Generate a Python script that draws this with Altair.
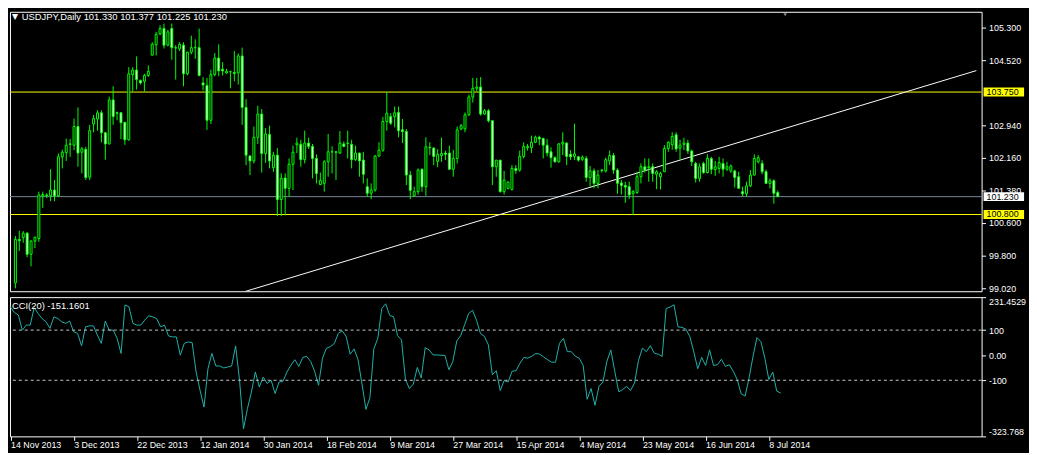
import altair as alt
import pandas as pd

# ---------------- data ----------------
opens = [99.15, 100.20, 100.24, 100.35, 99.84, 100.16, 100.22, 101.25, 101.27, 101.25,
         101.39, 101.25, 102.19, 102.29, 102.49, 102.47, 102.92, 102.30, 102.37, 101.70,
         102.98, 103.10, 103.25, 102.77, 102.50, 103.56, 103.25, 103.25, 103.02, 102.60,
         104.17, 104.28, 104.03, 104.01, 104.15, 104.64, 104.89, 105.15, 105.28, 104.88,
         105.28, 104.82, 104.79, 104.88, 104.19, 104.71, 104.82, 104.82, 103.97, 103.91,
         103.07, 104.17, 104.57, 104.30, 104.21, 104.24, 104.22, 104.21, 104.62, 103.38,
         102.21, 102.09, 102.66, 103.22, 102.27, 102.73, 101.93, 102.23, 101.16, 101.68,
         101.43, 102.01, 102.48, 102.49, 102.12, 102.52, 102.44, 102.15, 101.52, 101.55,
         102.07, 102.31, 102.31, 102.28, 102.50, 102.51, 102.49, 102.12, 102.28, 102.11,
         101.47, 101.31, 101.39, 102.21, 102.35, 103.04, 103.16, 103.16, 103.26, 102.84,
         102.80, 101.75, 101.25, 101.35, 101.89, 101.47, 102.42, 102.40, 102.08, 102.22,
         102.28, 102.28, 101.89, 102.15, 102.86, 102.86, 103.20, 103.63, 103.84, 103.87,
         103.22, 103.30, 103.06, 101.95, 102.11, 101.35, 101.43, 101.40, 101.91, 101.87,
         102.20, 102.41, 102.41, 102.54, 102.66, 102.63, 102.47, 102.31, 102.17, 102.07,
         102.50, 102.52, 102.25, 102.20, 102.19, 102.13, 102.15, 101.69, 101.85, 101.55,
         101.87, 101.85, 102.09, 102.22, 101.87, 101.56, 101.50, 101.47, 101.30, 101.33,
         101.71, 101.95, 101.93, 101.95, 101.77, 101.71, 101.83, 102.39, 102.48, 102.72,
         102.40, 102.49, 102.52, 102.33, 102.03, 101.67, 102.03, 101.81, 102.15, 101.88,
         101.91, 102.03, 101.89, 101.85, 101.85, 101.71, 101.35, 101.30, 101.49, 101.75,
         102.07, 102.03, 101.83, 101.55, 101.61, 101.330]
highs = [100.28, 100.41, 100.40, 100.38, 100.18, 100.27, 101.35, 101.35, 101.31, 101.89,
         101.63, 102.27, 102.36, 102.63, 102.62, 103.11, 103.38, 102.43, 102.43, 102.96,
         103.20, 103.31, 103.31, 102.78, 103.64, 103.89, 103.28, 103.27, 103.03, 104.35,
         104.35, 104.61, 104.05, 104.19, 104.39, 104.95, 105.20, 105.36, 105.40, 105.25,
         105.40, 104.88, 104.95, 104.95, 104.72, 105.11, 105.02, 105.28, 104.11, 104.09,
         104.29, 104.69, 104.90, 104.47, 104.31, 104.26, 104.74, 104.68, 104.82, 103.58,
         102.23, 102.92, 103.42, 103.34, 102.88, 102.94, 102.31, 102.40, 101.79, 101.79,
         102.15, 102.46, 102.65, 102.60, 102.82, 102.65, 102.50, 102.25, 101.81, 102.11,
         102.74, 102.44, 102.32, 102.81, 102.56, 102.82, 102.60, 102.46, 102.29, 102.31,
         101.67, 101.55, 102.23, 102.54, 103.15, 103.76, 103.24, 103.40, 103.40, 103.10,
         102.86, 101.85, 101.47, 101.91, 101.91, 102.66, 102.54, 102.42, 102.37, 102.65,
         102.34, 102.46, 102.36, 102.92, 102.98, 103.26, 103.69, 104.09, 104.09, 104.11,
         103.34, 103.34, 103.06, 102.11, 102.11, 101.85, 101.60, 101.99, 101.99, 102.34,
         102.54, 102.50, 102.70, 102.70, 102.70, 102.65, 102.62, 102.42, 102.20, 102.52,
         102.78, 102.54, 102.35, 102.99, 102.21, 102.22, 102.21, 101.97, 101.91, 101.87,
         101.90, 102.17, 102.34, 102.28, 101.91, 101.63, 101.59, 101.59, 101.39, 101.83,
         102.03, 102.15, 102.15, 102.03, 101.87, 101.83, 102.47, 102.56, 102.78, 102.78,
         102.60, 102.65, 102.60, 102.36, 102.07, 102.03, 102.07, 102.25, 102.19, 102.09,
         102.19, 102.15, 102.07, 102.00, 101.88, 101.83, 101.47, 101.59, 101.87, 102.25,
         102.23, 102.11, 101.88, 101.67, 101.65, 101.377]
lows = [99.02, 99.92, 100.12, 99.77, 99.55, 99.99, 100.14, 100.96, 101.20, 101.12,
        101.12, 101.22, 101.91, 102.09, 102.19, 102.35, 101.95, 101.79, 101.63, 101.63,
        102.78, 102.82, 102.54, 102.12, 102.49, 102.96, 103.07, 102.62, 102.48, 102.58,
        103.76, 103.81, 103.93, 103.76, 104.11, 104.63, 104.63, 105.12, 104.80, 104.85,
        104.53, 104.05, 104.74, 103.89, 104.15, 104.66, 104.55, 104.13, 103.79, 102.84,
        102.98, 104.13, 104.13, 104.15, 104.19, 103.84, 104.01, 103.93, 102.96, 101.99,
        101.75, 102.03, 102.50, 101.81, 102.04, 101.91, 101.83, 100.76, 100.76, 100.78,
        101.23, 101.39, 102.28, 101.95, 102.03, 102.38, 101.67, 101.55, 101.51, 101.35,
        101.71, 101.79, 101.63, 102.26, 102.42, 102.15, 101.91, 102.09, 101.71, 101.55,
        101.23, 101.17, 101.35, 102.19, 102.31, 102.82, 102.96, 102.90, 102.66, 102.52,
        101.51, 101.17, 101.23, 101.28, 101.35, 101.25, 102.23, 101.99, 101.94, 102.07,
        102.11, 101.87, 101.71, 102.03, 102.83, 102.78, 103.18, 103.50, 103.77, 103.18,
        103.20, 103.02, 101.51, 101.71, 101.33, 101.28, 101.40, 101.38, 101.78, 101.83,
        102.15, 102.34, 102.28, 102.52, 102.47, 102.15, 102.20, 101.93, 102.05, 102.05,
        102.23, 101.99, 102.11, 102.11, 102.07, 102.09, 101.59, 101.47, 101.43, 101.43,
        101.81, 101.81, 101.99, 101.78, 101.30, 101.28, 101.08, 101.17, 100.79, 101.30,
        101.55, 101.81, 101.59, 101.59, 101.41, 101.40, 101.82, 102.31, 102.36, 102.31,
        102.11, 102.35, 102.26, 101.97, 101.57, 101.59, 101.78, 101.79, 101.77, 101.73,
        101.79, 101.71, 101.85, 101.80, 101.45, 101.42, 101.23, 101.23, 101.46, 101.74,
        102.03, 101.77, 101.54, 101.43, 101.06, 101.225]
closes = [100.20, 100.17, 100.35, 99.84, 100.16, 100.25, 101.27, 101.28, 101.26, 101.39,
          101.25, 102.19, 102.30, 102.47, 102.50, 102.92, 102.28, 102.38, 101.69, 102.82,
          103.11, 103.25, 102.77, 102.50, 103.56, 103.16, 103.24, 103.01, 102.60, 104.19,
          104.28, 104.05, 103.97, 104.15, 104.25, 104.90, 105.14, 105.28, 104.88, 105.20,
          104.82, 104.81, 104.90, 104.19, 104.71, 104.82, 104.82, 104.15, 103.92, 103.07,
          104.17, 104.57, 104.26, 104.26, 104.25, 104.24, 104.20, 104.62, 103.38, 102.23,
          102.09, 102.66, 103.22, 102.27, 102.74, 102.09, 102.23, 101.16, 101.67, 101.43,
          102.01, 102.30, 102.52, 102.12, 102.52, 102.44, 102.15, 101.79, 101.62, 102.07,
          102.31, 102.31, 102.30, 102.52, 102.44, 102.52, 102.12, 102.28, 102.09, 101.77,
          101.31, 101.39, 102.21, 102.35, 103.04, 103.24, 103.00, 103.25, 102.82, 102.80,
          101.75, 101.38, 101.35, 101.87, 101.47, 102.43, 102.41, 102.20, 102.25, 102.27,
          102.25, 101.89, 102.15, 102.84, 102.94, 103.20, 103.63, 103.84, 103.87, 103.22,
          103.30, 103.06, 101.95, 102.11, 101.35, 101.63, 101.58, 101.91, 101.86, 102.20,
          102.44, 102.44, 102.54, 102.66, 102.62, 102.47, 102.28, 102.17, 102.07, 102.50,
          102.54, 102.20, 102.19, 102.26, 102.11, 102.18, 101.69, 101.85, 101.55, 101.75,
          101.86, 102.12, 102.22, 101.87, 101.55, 101.50, 101.46, 101.27, 101.35, 101.71,
          101.95, 101.87, 101.95, 101.79, 101.83, 101.79, 102.39, 102.54, 102.68, 102.38,
          102.47, 102.52, 102.33, 102.07, 101.67, 101.95, 101.81, 102.15, 101.89, 101.95,
          102.05, 101.89, 101.95, 101.97, 101.69, 101.43, 101.30, 101.49, 101.75, 102.15,
          102.17, 101.83, 101.55, 101.61, 101.31, 101.230]
cci_values = [193, 170, 160, 100, 120, 120, 189, 166, 146, 133,
              107, 153, 146, 133, 127, 136, 93, 87, 37, 113,
              117, 117, 80, 47, 136, 100, 100, 67, 7, 200,
              193, 127, 120, 120, 140, 157, 153, 146, 113, 120,
              77, 73, 73, 0, 47, 53, 50, -67, -140, -207,
              -54, 7, -43, -43, -51, -47, -43, 37, -100, -294,
              -213, -147, -67, -127, -87, -113, -100, -153, -107, -104,
              -67, -40, -18, -45, -9, -5, -25, -64, -120, -12,
              28, 34, 47, 87, 97, 74, 4, 25, -18, -115,
              -216, -170, 25, 67, 186, 205, 159, 153, 78, 61,
              -97, -133, -115, -49, -91, 30, 21, 1, 1, 0,
              -1, -58, -25, 57, 78, 122, 166, 179, 139, 86,
              75, 41, -78, -62, -141, -101, -107, -64, -62, -32,
              -9, -12, -4, 7, 4, -7, -18, -28, -28, 47,
              67, 14, 14, -4, -12, -41, -176, -133, -200, -124,
              -107, -25, 21, -64, -146, -137, -124, -141, -111, -21,
              28, 14, 38, 8, 4, -5, 186, 192, 201, 113,
              111, 104, 74, 14, -54, -9, -41, 21, -41, -38,
              -16, -45, -38, -64, -97, -154, -163, -91, -5, 70,
              54, -12, -97, -67, -143, -151.1601]

date_ticks = [0, 16, 32, 48, 64, 80, 96, 112, 128, 144, 160, 176, 192]
date_labels = ["14 Nov 2013", "3 Dec 2013", "22 Dec 2013", "12 Jan 2014", "30 Jan 2014",
               "18 Feb 2014", "9 Mar 2014", "27 Mar 2014", "15 Apr 2014", "4 May 2014",
               "23 May 2014", "16 Jun 2014", "8 Jul 2014"]
price_ticks = [105.300, 104.520, 102.940, 102.160, 101.380, 100.600, 99.800, 99.020]
cci_ticks = [231.4529, 100, 0, -100, -323.768]
cci_levels = [100, -100]

line_prices = [103.750, 100.800, 101.230]
line_colors = ["#ffff00", "#ffff00", "#778899"]
box_colors = ["#ffff00", "#ffff00", "#ffffff"]

trend_idx = [58.7, 245.8]
trend_price = [98.943, 104.267]

shift_marker_idx = [196.9]

header_text = "USDJPY,Daily  101.330 101.377 101.225 101.230"
cci_text = "CCI(20) -151.1601"

# ---------------- tables ----------------
n = len(closes)
candles = pd.DataFrame({
    "idx": list(range(n)), "open": opens, "high": highs, "low": lows, "close": closes,
    "dir": ["bull" if c > o else "bear" for o, c in zip(opens, closes)],
})
cci_df = pd.DataFrame({"idx": list(range(n)), "cci": cci_values})
lines_df = pd.DataFrame({"price": line_prices, "lc": line_colors, "bc": box_colors})
trend_df = pd.DataFrame({"i1": [trend_idx[0]], "i2": [trend_idx[1]],
                         "p1": [trend_price[0]], "p2": [trend_price[1]]})
lev_df = pd.DataFrame({"lev": cci_levels})
shift_df = pd.DataFrame({"idx": shift_marker_idx})
one = pd.DataFrame({"k": [0]})

W, H1, H2 = 984, 283, 141
FONT = "Liberation Sans"
AX_FS = 9
HD_FS = 9.5
xdom = [-0.125, W / 4 - 0.125]
xs = alt.Scale(domain=xdom, nice=False, zero=False)
ys = alt.Scale(domain=[98.951, 105.684], nice=False, zero=False)
cs = alt.Scale(domain=[-323.768, 231.4529], nice=False, zero=False)

price_axis = alt.Axis(orient="right", values=price_ticks, format=".3f", title=None,
                      labelOverlap=False, labelFontSize=AX_FS, labelFont=FONT)

wicks = alt.Chart(candles).mark_rule(color="#00ff00", strokeWidth=1, clip=True).encode(
    x=alt.X("idx:Q", scale=xs, axis=None),
    y=alt.Y("low:Q", scale=ys, axis=price_axis),
    y2="high:Q",
)
bodies = alt.Chart(candles).mark_bar(width=2, stroke="#00ff00", strokeWidth=1, clip=True).encode(
    x=alt.X("idx:Q", scale=xs, axis=None),
    y=alt.Y("open:Q", scale=ys, title=None),
    y2="close:Q",
    fill=alt.Fill("dir:N", scale=alt.Scale(domain=["bull", "bear"], range=["#000000", "#ffffff"]), legend=None),
)
hlines = alt.Chart(lines_df).mark_rule(strokeWidth=1).encode(
    y=alt.Y("price:Q", scale=ys, title=None),
    color=alt.Color("lc:N", scale=None),
)
trend = alt.Chart(trend_df).mark_rule(color="#ffffff", strokeWidth=1, clip=True).encode(
    x=alt.X("i1:Q", scale=xs, axis=None), x2="i2:Q",
    y=alt.Y("p1:Q", scale=ys, title=None), y2="p2:Q",
)
boxes = alt.Chart(lines_df).mark_rule(strokeWidth=9).encode(
    y=alt.Y("price:Q", scale=ys, title=None),
    x=alt.value(W + 2), x2=alt.value(W + 43),
    color=alt.Color("bc:N", scale=None),
)
box_text = alt.Chart(lines_df).mark_text(align="left", baseline="middle", fontSize=AX_FS,
                                         font=FONT, color="#000000").encode(
    y=alt.Y("price:Q", scale=ys, title=None),
    x=alt.value(W + 5),
    text=alt.Text("price:Q", format=".3f"),
)
shift_mark = alt.Chart(shift_df).mark_point(shape="triangle-down", filled=True, size=14,
                                            color="#8a8a8a", opacity=1).encode(
    x=alt.X("idx:Q", scale=xs, axis=None), y=alt.value(3))
tri = alt.Chart(one).mark_text(align="left", baseline="middle", fontSize=8, color="#ffffff",
                               font="DejaVu Sans").encode(
    x=alt.value(2), y=alt.value(5.5), text=alt.value("\u25BC"))
head = alt.Chart(one).mark_text(align="left", baseline="middle", fontSize=HD_FS, color="#ffffff",
                                font=FONT).encode(
    x=alt.value(12), y=alt.value(5.5), text=alt.value(header_text))

main = alt.layer(hlines, trend, wicks, bodies, boxes, box_text, shift_mark, tri, head).properties(
    width=W, height=H1)

label_js = "[" + ",".join("'%s'" % s for s in date_labels) + "]"
x_axis = alt.Axis(values=date_ticks, labelExpr=label_js + "[round(datum.value/16)]",
                  labelAlign="left", labelBaseline="top", labelPadding=0, tickSize=4,
                  labelFontSize=AX_FS, labelFont=FONT, labelOverlap=False, labelFlush=False,
                  title=None, labelBound=False)
cci_label_expr = ("datum.value > 200 ? '231.4529' : (datum.value < -300 ? '-323.768' : "
                  "(datum.value == 0 ? '0.00' : (datum.value > 0 ? '100' : '-100')))")


def cci_axis():
    return alt.Axis(orient="right", values=cci_ticks, title=None, labelFlush=True,
                    labelOverlap=False, labelFontSize=AX_FS, labelFont=FONT,
                    labelExpr=cci_label_expr)


cci_line = alt.Chart(cci_df).mark_line(color="#20b2aa", strokeWidth=1).encode(
    x=alt.X("idx:Q", scale=xs, axis=x_axis),
    y=alt.Y("cci:Q", scale=cs, axis=cci_axis()),
)
levels = alt.Chart(lev_df).mark_rule(color="#c8c8c8", strokeWidth=1, strokeDash=[3, 3]).encode(
    y=alt.Y("lev:Q", scale=cs, axis=cci_axis()))
cci_head = alt.Chart(one).mark_text(align="left", baseline="middle", fontSize=HD_FS, color="#ffffff",
                                    font=FONT).encode(
    x=alt.value(2), y=alt.value(9.5), text=alt.value(cci_text))

lower = alt.layer(cci_line, levels, cci_head).properties(width=W, height=H2)

chart = alt.vconcat(main, lower, spacing=2).properties(
    padding=0, background="#000000"
).configure_view(stroke="#ffffff", strokeWidth=1).configure_axis(
    labelColor="#ffffff", tickColor="#ffffff", domain=False, grid=False, tickSize=4,
    labelPadding=3, labelOverlap=False,
)

chart.save("out.html", embed_options={"renderer": "svg", "actions": False})
